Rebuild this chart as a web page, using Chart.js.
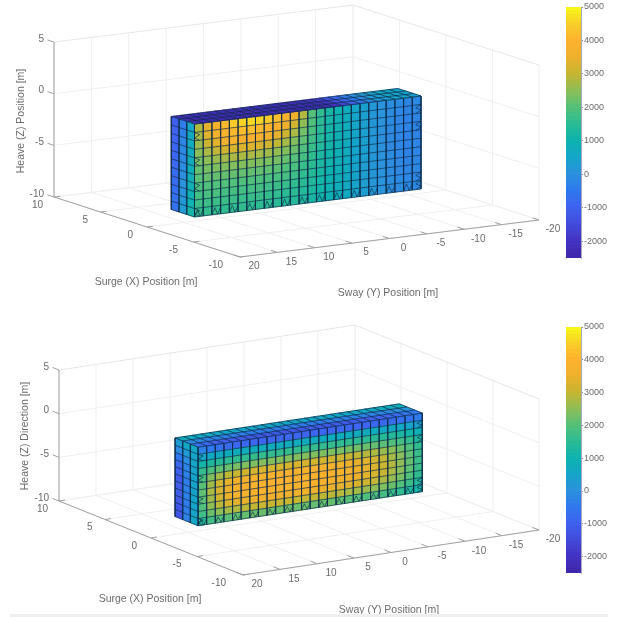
<!DOCTYPE html>
<html>
<head>
<meta charset="utf-8">
<title>Surface pressure on box</title>
<script src="https://cdn.jsdelivr.net/npm/chart.js@4"></script>
<style>
    html, body { margin: 0; padding: 0; background: #fff; overflow: hidden; }
    canvas { position: absolute; filter: blur(0.6px); }
    #footer { position: absolute; left: 10px; top: 614px; width: 598px; height: 3px; background: #eeeeee; }
</style>
</head>
<body>
<canvas id="box1" width="560" height="305" style="left:0;top:0"></canvas>
<canvas id="box2" width="560" height="307" style="left:0;top:310px"></canvas>
<canvas id="bar1" width="60" height="268" style="left:560px;top:0"></canvas>
<canvas id="bar2" width="60" height="280" style="left:560px;top:310px"></canvas>
<div id="footer"></div>
<script>
// Axis ticks
const surgeTicks = [10, 5, 0, -5, -10];
const swayTicks = [20, 15, 10, 5, 0, -5, -10, -15, -20];
const heaveTicks = [5, 0, -5, -10];
const colorbarTicks = [-2000, -1000, 0, 1000, 2000, 3000, 4000, 5000];

// Extent of the meshed box, in metres
const surgeExtent = [1, 3.5];
const swayExtent = [12.4, -17.9];
const heaveExtent = [-1, -10];

// Colormap
const colorStops = [-2500, -2000, -1000, -500, 0, 500, 1000, 1500, 2000, 2500, 3000, 3500, 4000, 4500, 5000];
const colorValues = ['#3e26a8', '#4433c4', '#3f63f0', '#2f78ee', '#2b92dc', '#14a5c8', '#0db3ae', '#2cbb92',
    '#55c078', '#8fbe55', '#c8b530', '#eeb02c', '#fdb22e', '#f8d028', '#f9fb15'];

// Top panel: long side, rows from top to bottom, columns from left to right
const frontTop = [
    [2800, 3400, 3800, 4100, 4400, 4550, 4600, 4550, 4400, 4200, 4000, 3600, 2800, 2000, 1550, 1200, 980, 760, 520, 340, 160, 10, -100, -180, -230, -200],
    [2700, 3300, 3700, 3950, 4100, 4200, 4200, 4150, 4000, 3800, 3600, 3100, 2500, 1950, 1500, 1170, 960, 750, 510, 330, 150, 0, -120, -210, -260, -230],
    [2600, 3050, 3350, 3600, 3750, 3850, 3850, 3800, 3650, 3400, 3100, 2750, 2250, 1850, 1450, 1150, 950, 750, 500, 330, 150, 0, -130, -230, -290, -260],
    [2450, 2750, 2950, 3100, 3200, 3250, 3250, 3200, 3100, 2950, 2700, 2400, 2100, 1750, 1400, 1130, 930, 730, 490, 320, 140, -10, -130, -230, -290, -260],
    [2300, 2500, 2600, 2700, 2750, 2750, 2750, 2700, 2650, 2550, 2400, 2200, 1950, 1650, 1350, 1100, 910, 710, 480, 320, 140, -10, -130, -230, -290, -260],
    [2150, 2300, 2350, 2400, 2400, 2400, 2400, 2400, 2350, 2300, 2150, 2000, 1800, 1550, 1290, 1070, 890, 700, 470, 310, 140, -10, -130, -220, -280, -250],
    [2050, 2150, 2150, 2150, 2150, 2150, 2150, 2150, 2100, 2050, 1950, 1850, 1650, 1480, 1250, 1050, 870, 690, 470, 310, 140, 0, -120, -210, -270, -240],
    [1900, 1950, 1950, 1950, 1950, 1950, 1950, 1950, 1900, 1850, 1800, 1700, 1550, 1400, 1210, 1020, 850, 680, 460, 300, 140, 0, -110, -200, -260, -230],
    [1800, 1850, 1850, 1800, 1800, 1800, 1800, 1800, 1750, 1700, 1650, 1550, 1450, 1320, 1160, 990, 830, 660, 450, 300, 140, 10, -100, -190, -240, -220],
    [1700, 1700, 1700, 1700, 1700, 1650, 1650, 1650, 1600, 1550, 1500, 1450, 1350, 1250, 1110, 960, 810, 650, 450, 290, 140, 10, -90, -170, -220, -200],
    [1600, 1600, 1600, 1550, 1550, 1550, 1550, 1500, 1500, 1450, 1400, 1350, 1270, 1180, 1060, 930, 790, 640, 440, 290, 140, 20, -80, -150, -190, -170]
];
// Top panel: upper side, rows from back to front
const lidTop = [
    [-2300, -2300, -2300, -2300, -2300, -2300, -2300, -2300, -2300, -2300, -2300, -2300, -2300, -2250, -2250, -2200, -1900, -1400, -900, -400, 0, 250, 450, 550, 550, 500],
    [-2350, -2350, -2350, -2350, -2350, -2350, -2350, -2350, -2350, -2350, -2350, -2350, -2350, -2300, -2300, -2250, -2000, -1500, -1000, -500, -100, 200, 400, 500, 500, 450],
    [-2300, -2400, -2400, -2400, -2400, -2400, -2400, -2400, -2400, -2400, -2400, -2400, -2400, -2350, -2350, -2300, -2050, -1600, -1100, -600, -150, 150, 350, 450, 450, 400]
];
// Top panel: short side, rows from top to bottom, columns from back to front
const endTop = [
    [-1100, -400, 500],
    [-1050, -300, 650],
    [-1000, -250, 700],
    [-950, -200, 750],
    [-900, -150, 800],
    [-850, -100, 850],
    [-800, -50, 850],
    [-800, 0, 900],
    [-750, 50, 950],
    [-700, 150, 1000],
    [-650, 250, 1150]
];

// Bottom panel
const frontBottom = [
    [-300, -500, -700, -800, -900, -900, -950, -950, -950, -950, -950, -950, -950, -950, -950, -950, -950, -950, -950, -950, -900, -850, -800, -700, -600, -400],
    [500, 600, 650, 700, 700, 750, 750, 750, 750, 750, 750, 750, 750, 750, 750, 750, 750, 750, 700, 700, 700, 650, 650, 600, 500, 350],
    [1100, 1300, 1400, 1500, 1550, 1550, 1600, 1600, 1600, 1600, 1600, 1600, 1600, 1600, 1600, 1600, 1550, 1550, 1500, 1500, 1450, 1400, 1350, 1250, 1100, 900],
    [1600, 1900, 2100, 2200, 2300, 2350, 2350, 2400, 2400, 2400, 2400, 2400, 2400, 2400, 2350, 2350, 2300, 2300, 2250, 2200, 2150, 2050, 1950, 1800, 1600, 1300],
    [1900, 2400, 2700, 2900, 3000, 3100, 3150, 3200, 3200, 3200, 3200, 3200, 3200, 3150, 3150, 3100, 3050, 3000, 2950, 2850, 2750, 2600, 2450, 2200, 1950, 1550],
    [2050, 2650, 3100, 3400, 3600, 3700, 3750, 3750, 3800, 3800, 3800, 3750, 3750, 3700, 3700, 3650, 3550, 3500, 3400, 3300, 3150, 2950, 2700, 2450, 2100, 1650],
    [2100, 2750, 3200, 3500, 3700, 3800, 3900, 3950, 3950, 3950, 3950, 3950, 3900, 3900, 3850, 3800, 3750, 3650, 3550, 3400, 3250, 3050, 2800, 2500, 2150, 1700],
    [2050, 2650, 3150, 3450, 3650, 3750, 3850, 3900, 3900, 3900, 3900, 3900, 3850, 3850, 3800, 3750, 3700, 3600, 3500, 3350, 3200, 3000, 2750, 2450, 2100, 1650],
    [1950, 2500, 2900, 3200, 3350, 3450, 3550, 3600, 3600, 3600, 3600, 3600, 3550, 3550, 3500, 3450, 3400, 3300, 3200, 3100, 2950, 2750, 2550, 2300, 1950, 1550],
    [1750, 2200, 2500, 2700, 2800, 2900, 2950, 3000, 3000, 3000, 3000, 3000, 2950, 2950, 2900, 2900, 2850, 2750, 2700, 2600, 2500, 2350, 2200, 1950, 1700, 1400],
    [1450, 1800, 1950, 2050, 2100, 2150, 2200, 2200, 2200, 2200, 2200, 2200, 2200, 2150, 2150, 2150, 2100, 2050, 2000, 1950, 1900, 1800, 1700, 1550, 1350, 1150]
];
const lidBottom = [
    [750, 700, 650, 600, 600, 550, 550, 550, 550, 550, 550, 550, 550, 550, 550, 550, 550, 550, 550, 550, 600, 600, 650, 700, 750, 800],
    [-100, -200, -300, -300, -350, -350, -350, -400, -400, -400, -400, -400, -400, -400, -400, -400, -350, -350, -350, -300, -300, -250, -200, -100, 0, 100],
    [-700, -900, -1050, -1100, -1150, -1200, -1200, -1200, -1200, -1200, -1200, -1200, -1200, -1200, -1200, -1200, -1150, -1150, -1100, -1100, -1050, -1000, -900, -800, -650, -450]
];
const endBottom = [
    [300, 550, 600],
    [-100, 200, 500],
    [-500, -100, 550],
    [-850, -250, 500],
    [-1050, -350, 450],
    [-1150, -400, 450],
    [-1150, -350, 450],
    [-1150, -350, 450],
    [-1200, -400, 450],
    [-1250, -400, 500],
    [-1300, -300, 600]
];

// Where the triangulated mesh shows through as small zigzags
const zigzagColumns = [1, 3, 5, 7, 9, 11, 13, 15, 17, 19, 21, 23, 25];
const zigzagRowsLeft = [1, 4, 7, 10];
const zigzagRowsRight = [1, 3, 9, 10];

const TEXT_COLOR = '#6a6a6a';
const FONT = '"Liberation Sans", Arial, sans-serif';

function hexToRgb(hex) {
    return [1, 3, 5].map(i => parseInt(hex.slice(i, i + 2), 16));
}

function colorFor(value) {
    let i = 0;
    while (i < colorStops.length - 2 && value > colorStops[i + 1]) i++;
    const t = Math.min(1, Math.max(0, (value - colorStops[i]) / (colorStops[i + 1] - colorStops[i])));
    const a = hexToRgb(colorValues[i]);
    const b = hexToRgb(colorValues[i + 1]);
    const mix = a.map((c, k) => Math.round(c + (b[k] - c) * t));
    return `rgb(${mix[0]},${mix[1]},${mix[2]})`;
}

// Orthographic view: one data metre along each axis moves this far on the plane
function project(view, surge, sway, heave) {
    const a = 10 - surge;
    const b = 20 - sway;
    return {
        x: view.origin[0] + a * view.surge[0] + b * view.sway[0],
        y: view.origin[1] + a * view.surge[1] + b * view.sway[1] - (heave + 10) * view.heave
    };
}

function lineSet(points, color, width) {
    return { data: points, showLine: true, fill: false, borderColor: color, borderWidth: width, pointRadius: 0, tension: 0 };
}

function polygonSet(points, color) {
    return { data: points, showLine: true, fill: 'shape', backgroundColor: color, borderColor: color, borderWidth: 0.6, pointRadius: 0, tension: 0 };
}

// Walls, floor, axis lines and ticks
function axesDatasets(view) {
    const out = [];
    const grid = '#efefef';
    const rim = '#e6e6e6';
    const axis = '#a0a0a0';
    const P = (s, w, h) => project(view, s, w, h);
    swayTicks.forEach(w => {
        out.push(lineSet([P(10, w, -10), P(10, w, 5)], grid, 1));
        out.push(lineSet([P(10, w, -10), P(-10, w, -10)], grid, 1));
    });
    surgeTicks.forEach(s => {
        out.push(lineSet([P(s, -20, -10), P(s, -20, 5)], grid, 1));
        out.push(lineSet([P(s, 20, -10), P(s, -20, -10)], grid, 1));
    });
    heaveTicks.forEach(h => {
        out.push(lineSet([P(10, 20, h), P(10, -20, h), P(-10, -20, h)], h === 5 ? rim : grid, 1));
    });
    out.push(lineSet([P(10, 20, -10), P(10, 20, 5)], axis, 1));
    out.push(lineSet([P(10, 20, -10), P(-10, 20, -10), P(-10, -20, -10)], axis, 1));
    heaveTicks.forEach(h => out.push(lineSet([P(10, 20, h), P(10.7, 20, h)], axis, 1)));
    surgeTicks.forEach(s => out.push(lineSet([P(s, 20, -10), P(s, 19.2, -10)], axis, 1)));
    swayTicks.forEach(w => out.push(lineSet([P(-10, w, -10), P(-9.3, w, -10)], axis, 1)));
    return out;
}

// One meshed face: corner(u, v) maps mesh fractions to data coordinates
function faceDatasets(view, values, corner) {
    const out = [];
    const rows = values.length;
    const cols = values[0].length;
    const P = (u, v) => { const c = corner(u, v); return project(view, c[0], c[1], c[2]); };
    for (let r = 0; r < rows; r++) {
        for (let c = 0; c < cols; c++) {
            out.push(polygonSet([
                P(c / cols, r / rows), P((c + 1) / cols, r / rows),
                P((c + 1) / cols, (r + 1) / rows), P(c / cols, (r + 1) / rows), P(c / cols, r / rows)
            ], colorFor(values[r][c])));
        }
    }
    const meshColor = 'rgba(12,42,72,0.78)';
    for (let r = 0; r <= rows; r++) out.push(lineSet([P(0, r / rows), P(1, r / rows)], meshColor, 0.9));
    for (let c = 0; c <= cols; c++) out.push(lineSet([P(c / cols, 0), P(c / cols, 1)], meshColor, 0.9));
    return out;
}

function zigzagDatasets(view) {
    const out = [];
    const color = 'rgba(12,42,72,0.8)';
    const s0 = surgeExtent[0];
    const [w0, w1] = swayExtent;
    const [h0, h1] = heaveExtent;
    const dw = (w1 - w0) / 26;
    const dh = (h1 - h0) / 11;
    zigzagColumns.forEach(c => {
        const w = w0 + dw * (c - 1);
        out.push(lineSet([0, 1, 2, 3].map(k => project(view, s0, w + dw * k / 3, k % 2 ? h1 - dh * 0.8 : h1)), color, 0.8));
    });
    zigzagRowsLeft.forEach(r => {
        const h = h0 + dh * r;
        out.push(lineSet([0, 1, 2, 3].map(k => project(view, s0, k % 2 ? w0 + dw * 0.6 : w0, h + dh * k / 3)), color, 0.8));
    });
    zigzagRowsRight.forEach(r => {
        const h = h0 + dh * r;
        out.push(lineSet([0, 1, 2, 3].map(k => project(view, s0, k % 2 ? w1 - dw * 0.6 : w1, h + dh * k / 3)), color, 0.8));
    });
    return out;
}

// Tick labels and axis titles go through the hidden plane scales as well
const axisText = {
    id: 'axisText',
    afterDraw(chart, args, opts) {
        const { ctx, scales } = chart;
        const view = opts.view;
        const put = (pt, dx, dy, text, align) => {
            ctx.textAlign = align;
            ctx.fillText(text, scales.x.getPixelForValue(pt.x) + dx, scales.y.getPixelForValue(pt.y) + dy);
        };
        ctx.save();
        ctx.fillStyle = TEXT_COLOR;
        ctx.textBaseline = 'middle';
        ctx.font = '10px ' + FONT;
        heaveTicks.forEach(h => put(project(view, 10, 20, h), -10, -3, String(h), 'right'));
        surgeTicks.forEach(s => put(project(view, s, 20, -10), -11 - (10 - s) * 0.3, 8, String(s), 'right'));
        swayTicks.forEach(w => put(project(view, -10, w, -10), 14, 9.5, String(w), 'center'));
        ctx.font = '10.5px ' + FONT;
        ctx.textAlign = 'center';
        ctx.fillText(opts.surgeTitle[0], opts.surgeTitle[1], opts.surgeTitle[2]);
        ctx.fillText(opts.swayTitle[0], opts.swayTitle[1], opts.swayTitle[2]);
        ctx.translate(opts.heaveTitle[1], opts.heaveTitle[2]);
        ctx.rotate(-Math.PI / 2);
        ctx.fillText(opts.heaveTitle[0], 0, 0);
        ctx.restore();
    }
};

function drawBox(canvasId, view, front, lid, end, titles) {
    const canvas = document.getElementById(canvasId);
    const [s0, s1] = surgeExtent;
    const [w0, w1] = swayExtent;
    const [h0, h1] = heaveExtent;
    const sets = [
        ...axesDatasets(view),
        ...faceDatasets(view, front, (u, v) => [s0, w0 + (w1 - w0) * u, h0 + (h1 - h0) * v]),
        ...faceDatasets(view, lid, (u, v) => [s1 + (s0 - s1) * v, w0 + (w1 - w0) * u, h0]),
        ...faceDatasets(view, end, (u, v) => [s1 + (s0 - s1) * u, w0, h0 + (h1 - h0) * v]),
        ...zigzagDatasets(view)
    ];
    return new Chart(canvas, {
        type: 'scatter',
        data: { datasets: sets.reverse() },
        options: {
            responsive: false,
            animation: false,
            events: [],
            layout: { padding: 0 },
            scales: {
                x: { type: 'linear', display: false, min: 0, max: canvas.width },
                y: { type: 'linear', display: false, min: 0, max: canvas.height, reverse: true }
            },
            plugins: {
                legend: { display: false },
                tooltip: { enabled: false },
                axisText: { view, ...titles }
            }
        },
        plugins: [axisText]
    });
}

function drawColorbar(canvasId, topPad, bottomPad) {
    const steps = 64;
    const lo = -2500;
    const hi = 5000;
    const sets = [];
    for (let i = 0; i < steps; i++) {
        const a = lo + (hi - lo) * i / steps;
        const b = lo + (hi - lo) * (i + 1) / steps;
        sets.push({
            data: [[a, Math.min(hi, b + 15)]],
            backgroundColor: colorFor((a + b) / 2),
            grouped: false,
            barPercentage: 1,
            categoryPercentage: 1
        });
    }
    return new Chart(document.getElementById(canvasId), {
        type: 'bar',
        data: { labels: [''], datasets: sets },
        options: {
            responsive: false,
            animation: false,
            events: [],
            layout: { padding: { left: 6, top: topPad, bottom: bottomPad, right: 0 } },
            scales: {
                x: { display: false },
                y: {
                    position: 'right',
                    min: lo,
                    max: hi,
                    afterBuildTicks(scale) { scale.ticks = colorbarTicks.map(value => ({ value })); },
                    afterFit(scale) { scale.width = 39; },
                    border: { color: '#a8a8c0', width: 1 },
                    grid: { drawOnChartArea: false, tickLength: 2, color: '#888' },
                    ticks: {
                        color: TEXT_COLOR,
                        padding: 1,
                        font: { size: 9, family: FONT },
                        callback: value => String(value)
                    }
                }
            },
            plugins: { legend: { display: false }, tooltip: { enabled: false } }
        }
    });
}

drawBox('box1',
    { origin: [54, 197], surge: [9.3, 3], sway: [7.475, -0.925], heave: 10.33 },
    frontTop, lidTop, endTop,
    {
        surgeTitle: ['Surge (X) Position [m]', 146, 282],
        swayTitle: ['Sway (Y) Position [m]', 388, 293],
        heaveTitle: ['Heave (Z) Position [m]', 21, 121]
    });
drawBox('box2',
    { origin: [59, 191], surge: [9.2, 3.7], sway: [7.4, -1.125], heave: 8.73 },
    frontBottom, lidBottom, endBottom,
    {
        surgeTitle: ['Surge (X) Position [m]', 150, 289],
        swayTitle: ['Sway (Y) Position [m]', 389, 300],
        heaveTitle: ['Heave (Z) Direction [m]', 25, 126]
    });
drawColorbar('bar1', 7, 10);
drawColorbar('bar2', 17, 17);
</script>
</body>
</html>
